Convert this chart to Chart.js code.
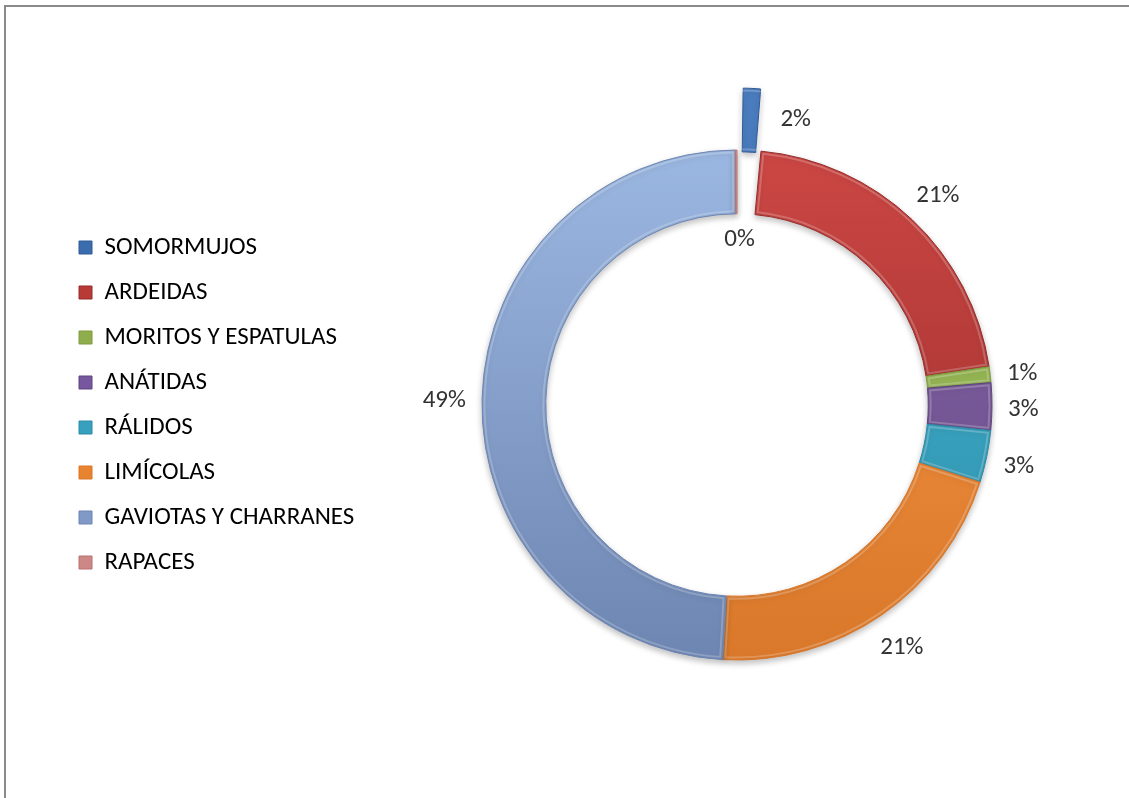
<!DOCTYPE html>
<html>
<head>
<meta charset="utf-8">
<script src="https://cdn.jsdelivr.net/npm/chart.js@4/dist/chart.umd.min.js"></script>
<style>
  html, body { margin: 0; padding: 0; background: #fff; overflow: hidden; }
  #frame { position: absolute; left: 4px; top: 5px; width: 1200px; height: 900px;
           border-top: 2px solid #8a8a8a; border-left: 2px solid #8a8a8a; }
  #wrap { position: absolute; left: 0; top: 0; width: 1129px; height: 798px; }
</style>
</head>
<body>
<div id="frame"></div>
<div id="wrap"><canvas id="chart"></canvas></div>
<script>
const categories = ["SOMORMUJOS", "ARDEIDAS", "MORITOS Y ESPATULAS", "ANÁTIDAS",
                    "RÁLIDOS", "LIMÍCOLAS", "GAVIOTAS Y CHARRANES", "RAPACES"];
const shares = [1.5, 21.1, 1.0, 3.0, 3.3, 21.0, 49.0, 0.1];

// light (top) and dark (bottom) shade of each slice, plus legend swatch
const topColors = ['#4A7DBF', '#CC4744', '#A6C964', '#8C6BB0', '#45B8D6', '#FA9A45', '#9BB8E2', '#E0A09E'];
const bottomColors = ['#2E5B96', '#952B29', '#7E9B3E', '#5F447E', '#2C8BA6', '#D9772A', '#6D85B1', '#B87270'];
const swatchColors = ['#3B6DAE', '#B83A37', '#8EAE4D', '#7757A0', '#37A0BE', '#E8842F', '#8199C6', '#CC8886'];

const FAMILY = 'Carlito, Lato, "Liberation Sans", sans-serif';
const total = shares.reduce((a, b) => a + b, 0);

function shade(context) {
  const i = context.dataIndex;
  const area = context.chart.chartArea;
  if (!area) return topColors[i];
  const cy = (area.top + area.bottom) / 2;
  const g = context.chart.ctx.createLinearGradient(0, cy - 260, 0, cy + 260);
  g.addColorStop(0, topColors[i]);
  g.addColorStop(1, bottomColors[i]);
  return g;
}

// where Chart.js actually draws an arc once its offset is applied
function placed(arc) {
  const p = arc.getProps(['x', 'y', 'startAngle', 'endAngle', 'innerRadius', 'outerRadius', 'circumference'], true);
  const off = (arc.options.offset || 0) / 4;
  const mid = (p.startAngle + p.endAngle) / 2;
  const grow = off * (1 - Math.sin(Math.min(Math.PI, p.circumference)));
  return {
    x: p.x + Math.cos(mid) * off,
    y: p.y + Math.sin(mid) * off,
    start: p.startAngle, end: p.endAngle, mid: mid,
    inner: p.innerRadius + grow, outer: p.outerRadius + grow,
    circ: p.circumference, offset: off
  };
}

// soft drop shadow under the ring
const ringShadow = {
  id: 'ringShadow',
  beforeDatasetDraw(chart) {
    const ctx = chart.ctx;
    ctx.save();
    ctx.shadowColor = 'rgba(0,0,0,0.25)';
    ctx.shadowBlur = 6;
    ctx.shadowOffsetY = 3;
  },
  afterDatasetDraw(chart) {
    chart.ctx.restore();
  }
};

// thin highlight inside each slice edge, for a bevelled look
const bevel = {
  id: 'bevel',
  afterDatasetDraw(chart) {
    const ctx = chart.ctx;
    ctx.save();
    chart.getDatasetMeta(0).data.forEach((arc) => {
      const a = placed(arc);
      if (a.circ < 0.01) return;
      const ro = a.outer - 2.5, ri = a.inner + 2.5;
      const dao = 2.5 / ro, dai = 2.5 / ri;
      ctx.beginPath();
      ctx.arc(a.x, a.y, ro, a.start + dao, a.end - dao);
      ctx.arc(a.x, a.y, ri, a.end - dai, a.start + dai, true);
      ctx.closePath();
      ctx.strokeStyle = 'rgba(255,255,255,0.22)';
      ctx.lineWidth = 2;
      ctx.stroke();
    });
    ctx.restore();
  }
};

// percentage labels around the ring
const pctLabels = {
  id: 'pctLabels',
  afterDatasetsDraw(chart) {
    const ctx = chart.ctx;
    ctx.save();
    ctx.font = '25px ' + FAMILY;
    ctx.fillStyle = '#333';
    ctx.textAlign = 'center';
    ctx.textBaseline = 'middle';
    chart.getDatasetMeta(0).data.forEach((arc, i) => {
      const a = placed(arc);
      const text = Math.round(shares[i] / total * 100) + '%';
      const cos = Math.cos(a.mid), sin = Math.sin(a.mid);
      const w = ctx.measureText(text).width, h = 18;
      let x, y;
      if (shares[i] / total < 0.005) {
        const r = a.inner - 26;
        x = a.x + cos * r + 3;
        y = a.y + sin * r;
      } else if (a.offset > 0) {
        const r = (a.inner + a.outer) / 2;
        x = a.x + cos * r + 30 + w / 2;
        y = a.y + sin * r;
      } else {
        const r = a.outer + 16 + Math.abs(cos) * w / 2 + Math.abs(sin) * h / 2;
        x = a.x + cos * r;
        y = a.y + sin * r + 3;
      }
      ctx.fillText(text, x, y);
    });
    ctx.restore();
  }
};

const ctx = document.getElementById('chart');

new Chart(ctx, {
  type: 'doughnut',
  data: {
    labels: categories,
    datasets: [{
      data: shares,
      backgroundColor: shade,
      borderColor: (c) => bottomColors[c.dataIndex],
      borderWidth: 1,
      hoverBorderWidth: 1,
      offset: (c) => c.dataIndex === 0 ? 130 : 0,
      hoverOffset: 0
    }]
  },
  options: {
    responsive: true,
    maintainAspectRatio: false,
    animation: false,
    events: [],
    cutout: '75%',
    layout: {
      padding: { left: 59, right: 14, top: 84.5, bottom: 72.5 }
    },
    plugins: {
      tooltip: { enabled: false },
      legend: {
        position: 'left',
        maxWidth: 300,
        labels: {
          boxWidth: 13,
          boxHeight: 13,
          padding: 20,
          color: '#2b2b2b',
          font: { family: FAMILY, size: 25 },
          generateLabels(chart) {
            return categories.map((name, i) => ({
              text: name,
              fillStyle: swatchColors[i],
              strokeStyle: bottomColors[i],
              lineWidth: 1,
              hidden: false,
              index: i
            }));
          }
        }
      }
    }
  },
  plugins: [ringShadow, bevel, pctLabels]
});
</script>
</body>
</html>
